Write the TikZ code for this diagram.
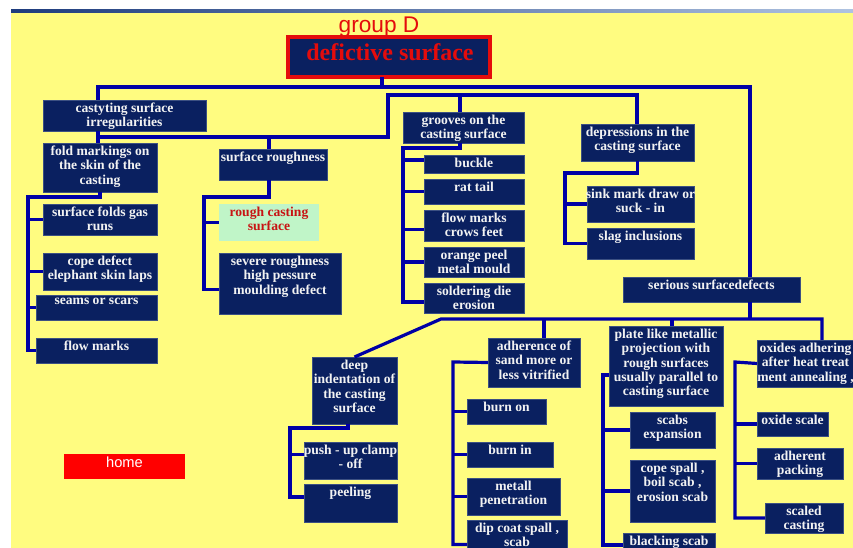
\documentclass[tikz,border=0pt]{standalone}
\usepackage{fontspec}
\setmainfont{Liberation Serif}
\newfontfamily\arialf{Liberation Sans}
\usetikzlibrary{calc}
\definecolor{bgyellow}{RGB}{255,252,128}
\definecolor{navy}{RGB}{10,32,96}
\definecolor{navyedge}{RGB}{60,80,130}
\definecolor{linkblue}{RGB}{0,0,165}
\definecolor{boxtxt}{RGB}{242,242,242}
\definecolor{mint}{RGB}{192,245,200}
\definecolor{titlered}{RGB}{228,12,12}
\definecolor{roughred}{RGB}{200,20,20}
\definecolor{bandL}{RGB}{30,60,125}
\definecolor{bandR}{RGB}{175,195,225}
\tikzset{
  dbox/.style={draw=navyedge, line width=0.4pt, fill=navy, inner sep=0pt, outer sep=0pt},
  btext/.style={text=boxtxt, font=\bfseries\fontsize{10.2}{10.8}\selectfont, align=center, inner sep=1pt},
  conn/.style={draw=linkblue, line width=2.4pt},
}
% [box opts]{name}{x1}{y1}{x2}{y2}{text}
\newcommand\bx[7][]{%
  \node[dbox,anchor=north west,minimum width={(#5-#3)*0.75pt},minimum height={(#6-#4)*0.75pt},#1] (#2) at (#3,#4) {};
  \node[btext,anchor=north] (#2-t) at ([yshift=-1pt]#2.north) {#7};
}
\begin{document}
\begin{tikzpicture}[x=0.75pt,y=-0.75pt]
\useasboundingbox (0,0) rectangle (853,548);
\clip (0,0) rectangle (853,548);
\fill[white] (0,0) rectangle (853,548);
\fill[bgyellow] (11,13) rectangle (853,548);
\shade[left color=bandL, right color=bandR] (11,10) rectangle (853,13);

% title
\node[text=titlered, font=\arialf\fontsize{17}{18}\selectfont, inner sep=0pt] (grp) at (379,27) {group D};
\node[fill=navy, draw=titlered, line width=2.4pt, anchor=north west, minimum width={(490-288)*0.75pt}, minimum height={(77-37)*0.75pt}, inner sep=0pt, outer sep=0pt] (main) at (288,37) {};
\node[text=titlered, font=\bfseries\fontsize{18}{20}\selectfont, inner sep=0pt] (main-t) at (390,52) {defictive surface};

% boxes
\bx{castyt}{43}{100}{206}{131}{castyting surface\\irregularities}
\bx{fold}{43}{143}{157}{192}{fold markings on\\the skin of the\\casting}
\bx{sroughness}{219}{149}{327}{180}{surface roughness}
\bx{sfold}{43}{204}{157}{235}{surface folds gas\\runs}
\bx{cope}{43}{253}{157}{290}{cope defect\\elephant skin laps}
\bx{seams}{36}{295}{157}{320}{seams or scars}
\bx{flowm}{36}{338}{157}{363}{flow marks}
\node[fill=mint, inner sep=0pt, outer sep=0pt, anchor=north west, minimum width={(319-219)*0.75pt}, minimum height={(241-204)*0.75pt}] (roughc) at (219,204) {};
\node[btext, text=roughred, anchor=north] (roughc-t) at ([yshift=-1pt]roughc.north) {rough casting\\surface};
\bx{severe}{219}{253}{341}{314}{severe roughness\\high pessure\\moulding defect}
\bx{grooves}{403}{112}{524}{143}{grooves on the\\casting surface}
\bx{buckle}{424}{155}{524}{173}{buckle}
\bx{rattail}{424}{179}{524}{204}{rat tail}
\bx{crows}{424}{210}{524}{241}{flow marks\\crows feet}
\bx{orange}{424}{247}{524}{277}{orange peel\\metal mould}
\bx{solder}{424}{283}{524}{313}{soldering die\\erosion}
\bx{depress}{581}{124}{694}{161}{depressions in the\\casting surface}
\bx{sink}{587}{186}{694}{222}{sink mark draw or\\suck - in}
\bx{slag}{587}{228}{694}{259}{slag inclusions}
\bx{serious}{623}{277}{800}{302}{serious surfacedefects}
\bx{deep}{312}{357}{397}{424}{deep\\indentation of\\the casting\\surface}
\bx{pushup}{304}{442}{397}{479}{push - up clamp\\- off}
\bx{peeling}{304}{484}{397}{522}{peeling}
\bx{adher}{488}{338}{580}{387}{adherence of\\sand more or\\less vitrified}
\bx{burnon}{467}{399}{546}{424}{burn on}
\bx{burnin}{467}{442}{553}{467}{burn in}
\bx{metall}{467}{478}{560}{515}{metall\\penetration}
\bx{dipcoat}{467}{520}{567}{569}{dip coat spall ,\\scab}
\bx{plate}{609}{326}{723}{406}{plate like metallic\\projection with\\rough surfaces\\usually parallel to\\casting surface}
\bx{scabs}{630}{412}{715}{448}{scabs\\expansion}
\bx{copesp}{630}{460}{715}{522}{cope spall ,\\boil scab ,\\erosion scab}
\bx{blacking}{623}{533}{715}{557}{blacking scab}
\bx{oxides}{757}{340}{854}{387}{oxides adhering\\after heat treat\\ment annealing ,}
\bx{oxscale}{757}{412}{828}{436}{oxide scale}
\bx{adherent}{757}{448}{843}{479}{adherent\\packing}
\bx{scaled}{765}{503}{843}{533}{scaled\\casting}
\node[fill=red, inner sep=0pt, outer sep=0pt, anchor=north west, minimum width={(185-64)*0.75pt}, minimum height={(479-454)*0.75pt}] (home) at (64,454) {};
\node[text=white, font=\arialf\fontsize{11}{12}\selectfont, inner sep=0pt] (home-t) at (124.5,462) {home};

% bus coordinates
\coordinate (cA) at (98,87);
\coordinate (cB) at (750,87);
\coordinate (cC) at (388,95);
\coordinate (cD) at (637,95);
\coordinate (cG) at (460,95);
\coordinate (cE) at (388,137);
\coordinate (cF) at (98,137);
\coordinate (cH) at (269,137);
\coordinate (fL) at (28,197);
\coordinate (sL) at (204,197);
\coordinate (gL) at (403,148);
\coordinate (dL) at (565,173);
\coordinate (b3L) at (441,319);
\coordinate (b3R) at (822,319);
\coordinate (b3A) at (544,319);
\coordinate (b3P) at (672,319);
\coordinate (dpL) at (290,428);
\coordinate (aL) at (453,362);
\coordinate (pL) at (603,375);
\coordinate (oL) at (735,362);

% connectors
\draw[conn] ([xshift=-5.25pt]main.south) -- ([xshift=-5.25pt]main.south |- cA);
\draw[conn] (castyt.north -| cA) -- (cA) -- (cB) -- (serious.north -| cB);
\draw[conn] (depress.north -| cD) -- (cD) -- (cC) -- (cE) -- (cF);
\draw[conn] (castyt.south -| cF) -- (fold.north -| cF);
\draw[conn] (cG) -- (grooves.north -| cG);
\draw[conn] (cH) -- (sroughness.north -| cH);
% fold markings ladder
\draw[conn] (fold.south) |- (fL) |- (flowm.west);
\draw[conn] (fL |- sfold.west) -- (sfold.west);
\draw[conn] (fL |- cope.west) -- (cope.west);
\draw[conn] (fL |- seams.west) -- (seams.west);
% surface roughness
\draw[conn] (sroughness.south -| cH) |- (sL) |- ([yshift=-4.5pt]severe.west);
\draw[conn] (sL |- roughc.west) -- (roughc.west);
% grooves
\draw[conn] (grooves.south -| cG) |- (gL) |- ([yshift=-3pt]solder.west);
\draw[conn] ([yshift=3pt]gL |- buckle.west) -- ([yshift=3pt]buckle.west);
\draw[conn] (gL |- rattail.west) -- (rattail.west);
\draw[conn] ([yshift=-3pt]gL |- crows.west) -- ([yshift=-3pt]crows.west);
\draw[conn] (gL |- orange.west) -- (orange.west);
% depressions
\draw[conn] (depress.south) |- (dL) |- (slag.west);
\draw[conn] (dL |- sink.west) -- (sink.west);
% serious
\draw[conn] (serious.south -| cB) -- (cB |- b3R);
\draw[conn] (deep.north) -- (b3L) -- (b3R) -- (oxides.north -| b3R);
\draw[conn] (b3A) -- (adher.north -| b3A);
\draw[conn] (b3P) -- (plate.north -| b3P);
% deep indentation
\draw[conn] ([xshift=-4.9pt]deep.south) |- (dpL) |- ([yshift=4.5pt]peeling.west);
\draw[conn] ([yshift=4.5pt]dpL |- pushup.west) -- ([yshift=4.5pt]pushup.west);
% adherence
\draw[conn] (adher.west) -- (aL) |- (dipcoat.west);
\draw[conn] (aL |- burnon.west) -- (burnon.west);
\draw[conn] (aL |- burnin.west) -- (burnin.west);
\draw[conn] (aL |- metall.west) -- (metall.west);
% plate
\draw[conn] (plate.west |- pL) -- (pL) |- (blacking.west);
\draw[conn] (pL |- scabs.west) -- (scabs.west);
\draw[conn] (pL |- copesp.west) -- (copesp.west);
% oxides
\draw[conn] (oxides.west) -- (oL) |- (scaled.west);
\draw[conn] (oL |- oxscale.west) -- (oxscale.west);
\draw[conn] (oL |- adherent.west) -- (adherent.west);
\end{tikzpicture}
\end{document}
